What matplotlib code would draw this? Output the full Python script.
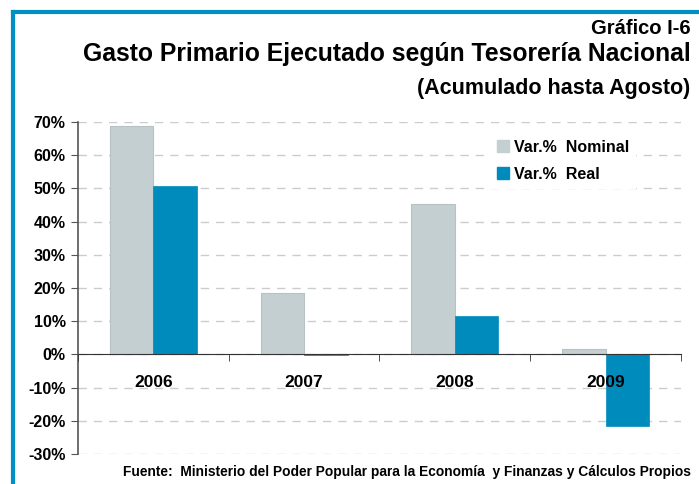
import matplotlib.pyplot as plt
import numpy as np
from matplotlib.lines import Line2D

plt.rcParams['font.family'] = ['Liberation Sans', 'DejaVu Sans']

years = ["2006", "2007", "2008", "2009"]
nominal = [68.9, 18.4, 45.3, 1.5]
real = [50.6, -0.3, 11.7, -21.6]
y_ticks = [-30, -20, -10, 0, 10, 20, 30, 40, 50, 60, 70]

col_nom = '#C3CFD1'
col_real = '#008BBD'
col_frame = '#0090C4'

fig = plt.figure(figsize=(6.99, 4.84), dpi=100)
ax = fig.add_axes([0.1116, 0.062, 0.8626, 0.686])

x = np.arange(len(years))
w = 0.288
ax.bar(x - w/2, nominal, w, color=col_nom, edgecolor='#B8C2C4', linewidth=0.8, zorder=2)
ax.bar(x + w/2, real, w, color=col_real, edgecolor=col_real, linewidth=0.5, zorder=2)

ax.set_xlim(-0.5, 3.5)
ax.set_ylim(-30, 70)
ax.set_yticks(y_ticks)
ax.set_yticklabels([f'{v}%' for v in y_ticks], fontsize=11.5, fontweight='bold')
ax.yaxis.grid(True, color='#CCCCCC', linestyle=(0, (6, 5)), linewidth=1.0)
ax.set_axisbelow(True)
ax.xaxis.set_zorder(3)  # etiquetas de anios por encima de las barras

# eje x en cero, con marcas entre categorias
ax.spines['bottom'].set_position(('data', 0))
ax.spines['bottom'].set_color('#333333')
ax.spines['left'].set_color('#555555')
ax.spines['left'].set_linewidth(1.2)
ax.spines['top'].set_visible(False)
ax.spines['right'].set_visible(False)
ax.set_xticks(x)
ax.set_xticklabels(years, fontsize=12.5, fontweight='bold')
ax.tick_params(axis='x', which='major', length=0, pad=15)
ax.set_xticks(np.arange(-0.5, 4.0, 1.0), minor=True)
ax.tick_params(axis='x', which='minor', length=5, direction='out', color='#333333')
ax.tick_params(axis='y', length=5, direction='out', color='#555555', pad=4)

handles = [Line2D([], [], marker='s', linestyle='none', markersize=9,
                  markerfacecolor=col_nom, markeredgecolor=col_nom),
           Line2D([], [], marker='s', linestyle='none', markersize=9,
                  markerfacecolor=col_real, markeredgecolor=col_real)]
leg = ax.legend(handles, ['Var.%  Nominal', 'Var.%  Real'], loc='upper left',
                bbox_to_anchor=(0.668, 0.99), frameon=True, fancybox=False,
                edgecolor='white', framealpha=1.0, handletextpad=0.15,
                borderpad=0.4, labelspacing=0.75, handlelength=1.0,
                prop={'weight': 'bold', 'size': 11.5})

# titulos
fig.text(0.988, 0.942, 'Gráfico I-6', ha='right', va='center', fontsize=14.5, fontweight='bold')
fig.text(0.988, 0.889, 'Gasto Primario Ejecutado según Tesorería Nacional', ha='right', va='center',
         fontsize=17.8, fontweight='bold')
fig.text(0.988, 0.818, '(Acumulado hasta Agosto)', ha='right', va='center', fontsize=15.5, fontweight='bold')
fig.text(0.988, 0.025, 'Fuente:  Ministerio del Poder Popular para la Economía  y Finanzas y Cálculos Propios',
         ha='right', va='center', fontsize=9.9, fontweight='bold')

# marco azul
fig.add_artist(Line2D([0.0186, 0.0186], [0.0, 0.975], color=col_frame, linewidth=3, transform=fig.transFigure))
fig.add_artist(Line2D([0.0186, 1.0], [0.975, 0.975], color=col_frame, linewidth=3, transform=fig.transFigure))

fig.savefig('out.png', dpi=100)
